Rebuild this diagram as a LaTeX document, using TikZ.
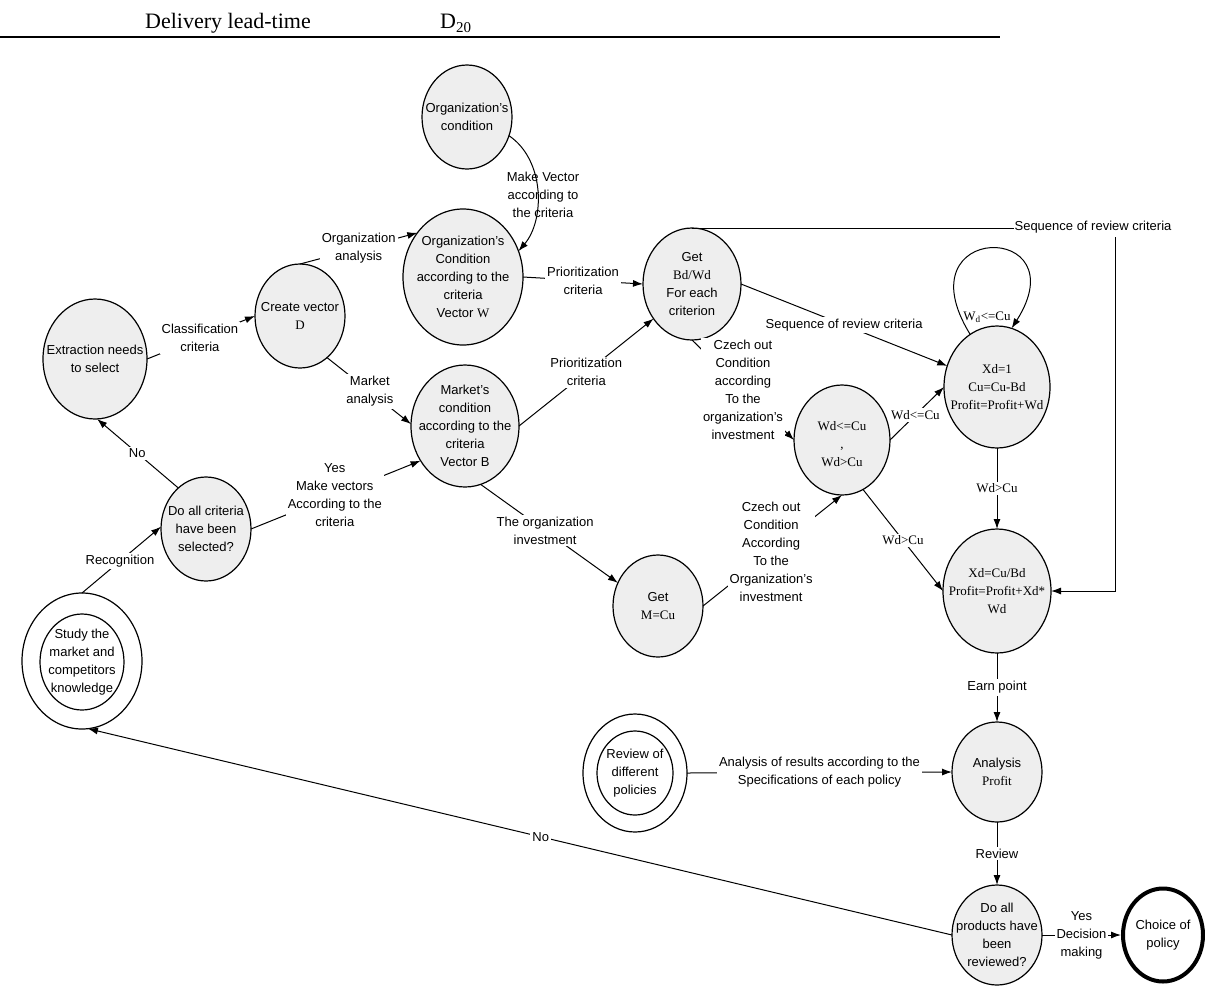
\documentclass[tikz,border=0pt]{standalone}
\usepackage{fontspec}
\setmainfont{Liberation Serif}
\setsansfont{Liberation Sans}
\usetikzlibrary{shapes.geometric,arrows.meta}
\definecolor{nodegray}{RGB}{238,238,238}
\tikzset{
  fs/.style={font=\sffamily\fontsize{13}{18}\selectfont},
  fr/.style={font=\rmfamily\fontsize{13}{18}\selectfont},
  circ/.style={ellipse, draw=black, line width=1.2pt, fill=nodegray, inner sep=0pt, outer sep=0pt},
  plainc/.style={ellipse, draw=black, line width=1.2pt, fill=white, inner sep=0pt, outer sep=0pt},
  txt/.style={align=center, inner sep=0pt, fs},
  txtr/.style={align=center, inner sep=0pt, fr},
  lbl/.style={align=center, fill=white, inner sep=2pt, fs},
  lblr/.style={align=center, fill=white, inner sep=2pt, fr},
  arr/.style={line width=1pt, -{Latex[length=10pt,width=7pt]}},
  ln/.style={line width=1pt},
}
\begin{document}
\begin{tikzpicture}[x=1pt, y=-1pt]
\useasboundingbox (0,0) rectangle (1205,986);

% header
\node[anchor=base west, inner sep=0pt, font=\rmfamily\fontsize{22}{24}\selectfont] (hdr1) at (145,28) {Delivery lead-time};
\node[anchor=base west, inner sep=0pt, font=\rmfamily\fontsize{22}{24}\selectfont] (hdr2) at (440,28) {D\raisebox{-4pt}{\fontsize{15}{15}\selectfont 20}};
\draw[line width=2.5pt] (0,37) -- (1000,37);

% nodes
\node[circ, minimum width=90pt, minimum height=104pt, label={[txt]center:{Organization's\\condition}}] (orgc) at (467,117) {};
\node[circ, minimum width=120pt, minimum height=136pt, label={[txt]center:{Organization's\\Condition\\according to the\\criteria\\Vector {\rmfamily W}}}] (vw) at (463,277) {};
\node[circ, minimum width=90pt, minimum height=104pt, label={[txt]center:{Create vector\\{\rmfamily D}}}] (cvd) at (300,316) {};
\node[circ, minimum width=104pt, minimum height=120pt, label={[txt]center:{Extraction needs\\to select}}] (ext) at (95,359) {};
\node[circ, minimum width=108pt, minimum height=122pt, label={[txt]center:{Market's\\condition\\according to the\\criteria\\Vector B}}] (mkt) at (465,426) {};
\node[circ, minimum width=98pt, minimum height=112pt, label={[txt]center:{Get\\{\rmfamily Bd/Wd}\\For each\\criterion}}] (get) at (692,284) {};
\node[circ, minimum width=106pt, minimum height=122pt, label={[txtr]center:{Xd=1\\Cu=Cu-Bd\\Profit=Profit+Wd}}] (xd1) at (997,387) {};
\node[circ, minimum width=96pt, minimum height=110pt, label={[txtr,yshift=-4pt]center:{Wd<=Cu\\,\\Wd>Cu}}] (wd) at (842,440) {};
\node[circ, minimum width=90pt, minimum height=102pt, label={[txt]center:{Get\\{\rmfamily M=Cu}}}] (getm) at (658,606) {};
\node[circ, minimum width=108pt, minimum height=124pt, label={[txtr]center:{Xd=Cu/Bd\\Profit=Profit+Xd*\\Wd}}] (xdb) at (997,591) {};
\node[circ, minimum width=90pt, minimum height=100pt, label={[txt]center:{Analysis\\{\rmfamily Profit}}}] (ana) at (997,772) {};
\node[circ, minimum width=90pt, minimum height=104pt, label={[txt]center:{Do all criteria\\have been\\selected?}}] (dac) at (206,529) {};
\node[plainc, minimum width=120pt, minimum height=136pt] (study) at (82,661) {};
\node[plainc, minimum width=84pt, minimum height=96pt, label={[txt]center:{Study the\\market and\\competitors\\knowledge}}] (studyin) at (82,662) {};
\node[plainc, minimum width=104pt, minimum height=118pt] (rev) at (635,773) {};
\node[plainc, minimum width=76pt, minimum height=84pt, label={[txt]center:{Review of\\different\\policies}}] (revin) at (635,773) {};
\node[circ, minimum width=90pt, minimum height=100pt, label={[txt]center:{Do all\\products have\\been\\reviewed?}}] (dap) at (997,935) {};
\node[plainc, line width=4pt, outer sep=2pt, minimum width=80pt, minimum height=93pt, label={[txt]center:{Choice of\\policy}}] (choice) at (1163,935) {};

% connectors
\draw[arr] (ext.east) -- node[lbl,pos=.49]{Classification\\criteria} (cvd.west);
\draw[arr] (cvd.north) -- node[lbl,pos=.5]{Organization\\analysis} (vw.136);
\draw[arr] (cvd.-57) -- node[lbl,pos=.51]{Market\\analysis} (mkt.178);
\draw[arr] (orgc.-24) .. controls (545,160) and (545,220) .. (vw.25);
\node[txt] (mvlbl) at (543,195) {Make Vector\\according to\\the criteria};
\draw[arr] (vw.east) -- node[lbl]{Prioritization\\criteria} (get.west);
\draw[arr] (mkt.east) -- node[lbl]{Prioritization\\criteria} (get.222);
\draw[arr] (get.east) -- node[lbl]{Sequence of review criteria} (xd1.157);
\node[txt] (seqtop) at (1093,227) {Sequence of review criteria};
\draw[ln] (get.north) -- (get.north -| seqtop.west);
\coordinate (seqdown) at (1115,237);
\draw[arr] (seqdown) |- (xdb.east);
\draw[arr] (get.south) -- node[lbl]{Czech out\\Condition\\according\\To the\\organization's\\investment} (wd.west);
\draw[arr] (getm.east) -- node[lbl,pos=.49]{Czech out\\Condition\\According\\To the\\Organization's\\investment} (wd.south);
\draw[arr] (mkt.-75) -- node[lbl,pos=.47]{The organization\\investment} (getm.150);
\draw[arr] (wd.east) -- node[lblr,pos=.47]{Wd<=Cu} (xd1.west);
\draw[arr] (wd.-67) -- node[lblr]{Wd>Cu} (xdb.west);
\draw[arr] (xd1.south) -- node[lblr]{Wd>Cu} (xdb.north);
\draw[arr] (xd1.117) .. controls (900,221) and (1080,221) .. (xd1.76);
\node[txtr] (looplbl) at (987,317) {W\textsubscript{d}<=Cu};
\draw[arr] (xdb.south) -- node[lbl]{Earn point} (ana.north);
\draw[arr] (ana.south) -- node[lbl]{Review} (dap.north);
\draw[arr] (rev.east) -- node[lbl]{Analysis of results according to the\\Specifications of each policy} (ana.west);
\draw[arr] (dap.west) -- node[lbl,pos=.476]{No} (study.-85);
\draw[arr] (dap.east) -- node[lbl]{Yes\\Decision\\making} (choice.west);
\draw[arr] (dac.east) -- node[lbl,pos=.494]{Yes\\Make vectors\\According to the\\criteria} (mkt.218);
\draw[arr] (dac.124) -- node[lbl,pos=.506]{No} (ext.-88);
\draw[arr] (study.north) -- node[lbl,pos=.48]{Recognition} (dac.177);
\end{tikzpicture}
\end{document}
